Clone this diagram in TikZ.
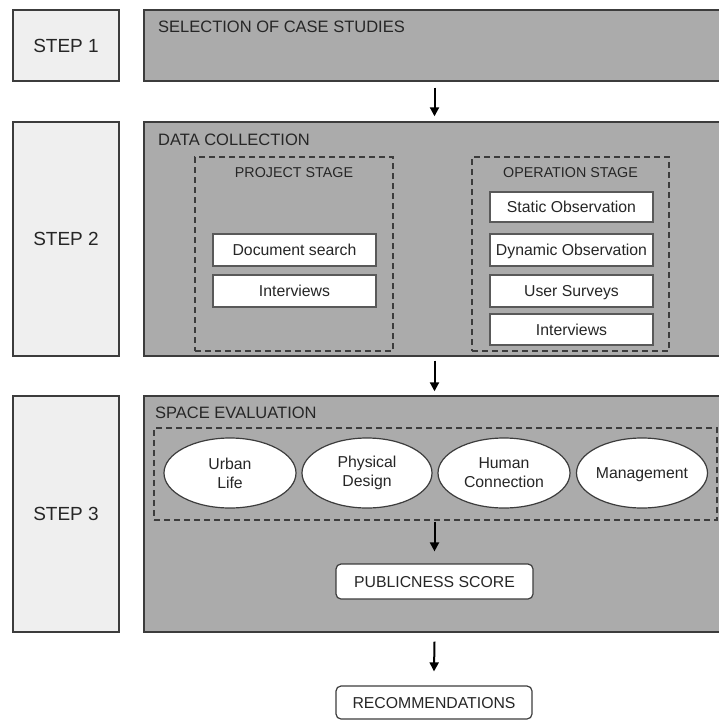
\documentclass[tikz,border=0pt]{standalone}
\usepackage{fontspec}
\setmainfont{Liberation Sans}
\usetikzlibrary{shapes.geometric,arrows.meta}
\definecolor{panelgray}{HTML}{ABABAB}
\definecolor{steppanel}{HTML}{EFEFEF}
\definecolor{edge}{HTML}{3C3C3C}
\definecolor{ink}{HTML}{262626}
\begin{document}
\begin{tikzpicture}[x=1pt,y=-1pt,
  stepbox/.style={draw=edge, fill=steppanel, line width=1.4pt, minimum width=106pt,
    inner sep=0pt, font=\fontsize{19}{22}\selectfont, text=ink},
  panel/.style={draw=edge, fill=panelgray, line width=1.4pt, minimum width=581pt, inner sep=0pt},
  title/.style={anchor=base west, font=\fontsize{16.5}{19}\selectfont, text=ink, inner sep=0pt},
  stagelabel/.style={anchor=base, font=\fontsize{14.3}{17}\selectfont, text=ink, inner sep=0pt},
  group/.style={draw=edge, dash pattern=on 6pt off 4pt, line width=1.4pt, inner sep=0pt},
  item/.style={draw=edge!85, fill=white, line width=1.2pt, minimum width=163pt, inner sep=0pt,
    font=\fontsize{15.8}{19}\selectfont, text=ink, text height=11.3pt, text depth=0pt},
  factor/.style={ellipse, draw=edge, fill=white, line width=1.2pt, minimum width=132pt,
    minimum height=70pt, inner sep=0pt, align=center, font=\fontsize{15.8}{19}\selectfont, text=ink},
  result/.style={rounded corners=5pt, draw=edge, fill=white, line width=1.2pt, inner sep=0pt,
    font=\fontsize{15.8}{19}\selectfont, text=ink, text height=11.3pt, text depth=0pt},
  arr/.style={-{Triangle[length=9pt,width=9pt]}, line width=2pt, black}
]
\useasboundingbox (0,0) rectangle (718,720);

% step labels
\node[stepbox, minimum height=71pt]  (s1) at (66,45.5) {STEP 1};
\node[stepbox, minimum height=234pt] (s2) at (66,239)  {STEP 2};
\node[stepbox, minimum height=236pt] (s3) at (66,514)  {STEP 3};

% step panels
\node[panel, minimum height=71pt]  (m1) at (434.5,45.5) {};
\node[panel, minimum height=234pt] (m2) at (434.5,239)  {};
\node[panel, minimum height=236pt] (m3) at (434.5,514)  {};

\node[title] (t1) at (158,32)  {SELECTION OF CASE STUDIES};
\node[title] (t2) at (158,145) {DATA COLLECTION};
\node[title] (t3) at (155,418) {SPACE EVALUATION};

% data collection stages
\node[group, minimum width=198pt, minimum height=194pt] (proj) at (294,254) {};
\node[group, minimum width=197pt, minimum height=194pt] (oper) at (570.5,254) {};
\node[stagelabel] (pl) at (294,177)   {PROJECT STAGE};
\node[stagelabel] (ol) at (570.5,177) {OPERATION STAGE};

\node[item, minimum height=32pt] (doc)  at (294.5,250) {Document search};
\node[item, minimum height=32pt] (int1) at (294.5,291) {Interviews};

\node[item, minimum height=30pt] (stat) at (571.5,207)   {Static Observation};
\node[item, minimum height=32pt] (dyn)  at (571.5,250)   {Dynamic Observation};
\node[item, minimum height=32pt] (surv) at (571.5,291)   {User Surveys};
\node[item, minimum height=31pt] (int2) at (571.5,329.5) {Interviews};

% space evaluation
\node[group, minimum width=563pt, minimum height=92pt] (eval) at (435.5,474) {};
\node[factor] (urban) at (230,473) {Urban\\Life};
\node[factor, minimum width=130pt] (phys) at (367,473) {Physical\\Design};
\node[factor] (human) at (504,473) {Human\\Connection};
\node[factor, minimum width=131pt, text height=11.3pt, text depth=0pt] (mgmt) at (642,473) {Management};

\node[result, minimum width=197pt, minimum height=35pt] (score) at (434.5,581.5) {PUBLICNESS SCORE};
\node[result, minimum width=196pt, minimum height=33pt] (rec)   at (434,702.5)   {RECOMMENDATIONS};

% flow
\draw[arr] ([yshift=-6pt]m1.south) -- ([yshift=5pt]m2.north);
\draw[arr] ([yshift=-4pt]m2.south) -- ([yshift=4pt]m3.north);
\draw[arr] ([yshift=-1pt]eval.south -| score.north) -- ([yshift=12pt]score.north);
\draw[arr] ([yshift=-9pt]m3.south) -- ([yshift=14pt]rec.north);
\end{tikzpicture}
\end{document}
